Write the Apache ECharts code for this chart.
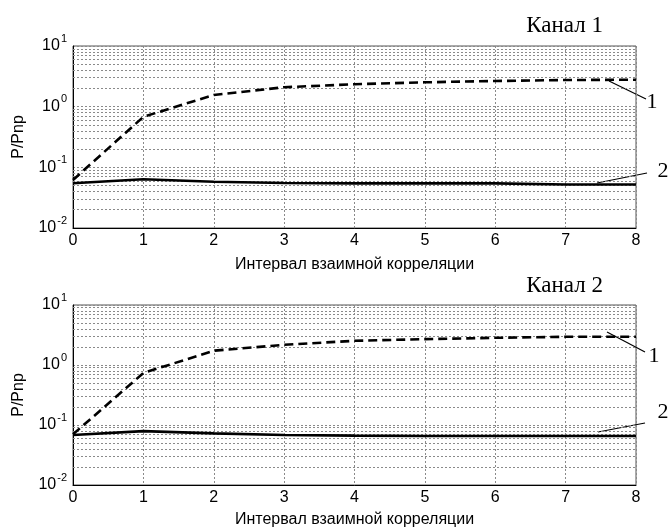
<!DOCTYPE html>
<html>
<head>
<meta charset="utf-8">
<script src="https://cdn.jsdelivr.net/npm/echarts@6/dist/echarts.min.js"></script>
<style>html,body{margin:0;padding:0;background:#fff}#c{width:668px;height:529px}</style>
</head>
<body>
<div id="c"></div>
<script>
const xValues = [0, 1, 2, 3, 4, 5, 6, 7, 8];
const ch1Curve1 = [0.062, 0.68, 1.56, 2.09, 2.34, 2.52, 2.65, 2.75, 2.78];
const ch1Curve2 = [0.0547, 0.0637, 0.058, 0.0553, 0.0545, 0.0543, 0.0543, 0.052, 0.052];
const ch2Curve1 = [0.07, 0.736, 1.73, 2.17, 2.53, 2.7, 2.84, 2.95, 2.95];
const ch2Curve2 = [0.068, 0.079, 0.0726, 0.068, 0.0665, 0.0655, 0.0655, 0.0655, 0.0655];
const minorGridValues = [0.02,0.03,0.04,0.05,0.06,0.07,0.08,0.09,0.2,0.3,0.4,0.5,0.6,0.7,0.8,0.9,2,3,4,5,6,7,8,9];
const titles = ['Канал 1', 'Канал 2'];
const xName = 'Интервал взаимной корреляции';
const yName = 'P/Pnp';

const pair = (ys) => xValues.map((x, i) => [x, ys[i]]);
const gridDash = { type: [2, 2], color: '#8a8a8a', width: 1 };
const sans = 'Liberation Sans';

function xAxis(idx, gap) {
  return {
    type: 'value', gridIndex: idx, min: 0, max: 8, interval: 1,
    name: xName, nameLocation: 'middle', nameGap: gap,
    nameTextStyle: { fontFamily: sans, fontSize: 16, color: '#000' },
    axisLine: { lineStyle: { color: '#000', width: 1 } },
    axisTick: { show: false },
    axisLabel: { fontFamily: sans, fontSize: 16, color: '#000', margin: 5 },
    splitLine: { show: true, lineStyle: gridDash }
  };
}
function yAxis(idx) {
  return {
    type: 'log', logBase: 10, gridIndex: idx, min: 0.01, max: 10,
    name: yName, nameLocation: 'middle', nameGap: 46, nameRotate: 90,
    nameTextStyle: { fontFamily: sans, fontSize: 16, color: '#000' },
    axisLine: { show: true, lineStyle: { color: '#000', width: 1 } },
    axisTick: { show: false },
    axisLabel: {
      margin: 6,
      formatter: function (v) {
        const e = Math.round(Math.log10(v));
        return '{b|10}{e|' + e + '}';
      },
      rich: {
        b: { fontFamily: sans, fontSize: 16, lineHeight: 16, color: '#000', verticalAlign: 'middle' },
        e: { fontFamily: sans, fontSize: 11, lineHeight: 11, color: '#000', padding: [0, 0, 15, 1], verticalAlign: 'middle' }
      }
    },
    splitLine: { show: true, lineStyle: gridDash }
  };
}
function seriesFor(idx, c1, c2) {
  return [
    {
      type: 'line', xAxisIndex: idx, yAxisIndex: idx, data: [], silent: true,
      markLine: {
        silent: true, symbol: 'none', animation: false,
        label: { show: false },
        lineStyle: gridDash,
        data: minorGridValues.map(v => ({ yAxis: v }))
      }
    },
    {
      type: 'line', xAxisIndex: idx, yAxisIndex: idx, data: pair(c1), symbol: 'none',
      lineStyle: { color: '#000', width: 2.6, type: [9, 5] }, z: 5
    },
    {
      type: 'line', xAxisIndex: idx, yAxisIndex: idx, data: pair(c2), symbol: 'none',
      lineStyle: { color: '#000', width: 2.6 }, z: 5
    }
  ];
}

const serif = 'Liberation Serif';
const annot = (x, y, t) => ({ type: 'text', x: x, y: y, style: { text: t, font: '22px "' + serif + '"', fill: '#000', align: 'center', verticalAlign: 'middle' } });
const leader = (x1, y1, x2, y2) => ({ type: 'line', shape: { x1: x1, y1: y1, x2: x2, y2: y2 }, style: { stroke: '#000', lineWidth: 1.2 } });

const chart = echarts.init(document.getElementById('c'), null, { renderer: 'canvas' });
chart.setOption({
  animation: false,
  backgroundColor: '#fff',
  title: [
    { text: titles[0], right: 60, top: 9, textStyle: { fontFamily: serif, fontSize: 23, fontWeight: 'normal', color: '#000' } },
    { text: titles[1], right: 60, top: 269, textStyle: { fontFamily: serif, fontSize: 23, fontWeight: 'normal', color: '#000' } }
  ],
  grid: [
    { left: 73, right: 32, top: 46, height: 182, show: true, borderColor: '#555', borderWidth: 1 },
    { left: 73, right: 32, top: 305, height: 181, show: true, borderColor: '#555', borderWidth: 1 }
  ],
  xAxis: [xAxis(0, 29), xAxis(1, 27)],
  yAxis: [yAxis(0), yAxis(1)],
  series: [].concat(seriesFor(0, ch1Curve1, ch1Curve2), seriesFor(1, ch2Curve1, ch2Curve2)),
  graphic: [
    leader(609, 81, 646, 99), annot(652, 102, '1'),
    leader(597, 183, 647, 173), annot(663, 171, '2'),
    leader(607, 332, 645, 352), annot(654, 356, '1'),
    leader(598, 432, 645, 423), annot(663, 412, '2')
  ]
});
</script>
</body>
</html>
